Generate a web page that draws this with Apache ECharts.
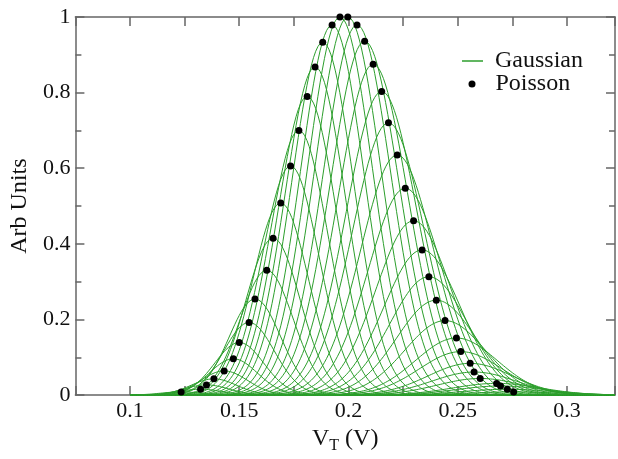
<!DOCTYPE html>
<html>
<head>
<meta charset="utf-8">
<script src="https://cdn.jsdelivr.net/npm/echarts@6/dist/echarts.min.js"></script>
<style>
  html, body { margin: 0; padding: 0; background: #fff; }
  #chart { width: 618px; height: 459px; }
</style>
</head>
<body>
<div id="chart"></div>
<script>
// Threshold-voltage positions (V) of each dopant-count state
const vtCenters = [
  0.1234, 0.1323, 0.1350, 0.1384, 0.1431, 0.1473, 0.1500, 0.1545, 0.1572, 0.1626,
  0.1655, 0.1690, 0.1735, 0.1773, 0.1811, 0.1847, 0.1882, 0.1925, 0.1961,
  0.1997, 0.2039, 0.2074, 0.2113, 0.2152, 0.2183, 0.2223, 0.2260, 0.2298, 0.2337,
  0.2368, 0.2402, 0.2442, 0.2494, 0.2514, 0.2557, 0.2575, 0.2603, 0.2678, 0.2696,
  0.2727, 0.2756
];
// Normalised Poisson weight of each state
const poissonProb = [
  0.0085, 0.0155, 0.027, 0.043, 0.064, 0.096, 0.139, 0.192, 0.254, 0.330,
  0.415, 0.508, 0.606, 0.700, 0.790, 0.868, 0.933, 0.979, 1.000,
  1.000, 0.979, 0.936, 0.875, 0.803, 0.720, 0.635, 0.547, 0.461, 0.384,
  0.313, 0.251, 0.197, 0.151, 0.115, 0.084, 0.061, 0.044, 0.031, 0.024,
  0.0155, 0.0085
];
// Gaussian spread (V) around each state; wider states sit at higher V_T
const gaussSigma = [
  0.00926, 0.00992, 0.01013, 0.01038, 0.01073, 0.01105, 0.01125, 0.01159, 0.01179, 0.01220,
  0.01241, 0.01268, 0.01301, 0.01330, 0.01358, 0.01385, 0.01412, 0.01444, 0.01471,
  0.01498, 0.01529, 0.01556, 0.01585, 0.01614, 0.01637, 0.01667, 0.01695, 0.01724, 0.01753,
  0.01776, 0.01802, 0.01832, 0.01871, 0.01886, 0.01918, 0.01931, 0.01952, 0.02009, 0.02022,
  0.02045, 0.02067
];

const xTickLabels = [0.1, 0.15, 0.2, 0.25, 0.3];
const yTickLabels = [0, 0.2, 0.4, 0.6, 0.8, 1];

const X_MIN = 0.075, X_MAX = 0.322;
const CURVE_START = 0.1, CURVE_STEP = 0.001;

function gaussianCurve(mu, amp, sigma) {
  const pts = [];
  for (let i = 0; ; i++) {
    const x = CURVE_START + i * CURVE_STEP;
    if (x > X_MAX + 1e-9) break;
    const d = (x - mu) / sigma;
    pts.push([x, amp * Math.exp(-0.5 * d * d)]);
  }
  return pts;
}

const green = '#2c9e2c';
const serif = '"Liberation Serif", "Times New Roman", serif';

const series = vtCenters.map((mu, i) => ({
  name: 'Gaussian',
  type: 'line',
  data: gaussianCurve(mu, poissonProb[i], gaussSigma[i]),
  showSymbol: false,
  symbol: 'none',
  lineStyle: { color: green, width: 1 },
  itemStyle: { color: green },
  silent: true,
  animation: false,
  z: 2
}));

series.push({
  name: 'Poisson',
  type: 'scatter',
  data: vtCenters.map((v, i) => [v, poissonProb[i]]),
  symbol: 'circle',
  symbolSize: 7,
  itemStyle: { color: '#000', opacity: 1 },
  animation: false,
  z: 5
});

const axisLineStyle = { color: '#666', width: 1.5 };
const textColor = '#111';

const chart = echarts.init(document.getElementById('chart'), null, { renderer: 'canvas' });
chart.setOption({
  backgroundColor: '#fff',
  animation: false,
  grid: { left: 67, right: 3, top: 17, bottom: 56, containLabel: false },
  legend: [
    {
      data: [{ name: 'Gaussian', icon: 'rect' }],
      left: 462, top: 49, padding: 0,
      itemWidth: 21, itemHeight: 1.5,
      textStyle: { fontFamily: serif, fontSize: 24, color: textColor, padding: [0, 0, 0, 7] },
      selectedMode: false
    },
    {
      data: [{ name: 'Poisson', icon: 'circle' }],
      left: 468.5, top: 72, padding: 0,
      itemWidth: 7, itemHeight: 7,
      textStyle: { fontFamily: serif, fontSize: 24, color: textColor, padding: [0, 0, 0, 15] },
      itemStyle: { color: '#000', opacity: 1 },
      selectedMode: false
    }
  ],
  xAxis: [
    {
      type: 'value', min: X_MIN, max: X_MAX, interval: 0.025,
      axisLine: { show: true, onZero: false, lineStyle: axisLineStyle },
      axisTick: { show: true, inside: true, length: 9, lineStyle: axisLineStyle },
      splitLine: { show: false },
      axisLabel: {
        margin: 5, fontFamily: serif, fontSize: 22, color: textColor,
        formatter: v => {
          const hit = xTickLabels.find(t => Math.abs(t - v) < 1e-6);
          return hit === undefined ? '' : String(hit);
        }
      },
      name: '{v|V}{s|T}{v| (V)}',
      nameLocation: 'middle', nameGap: 24,
      nameTextStyle: {
        rich: {
          v: { fontFamily: serif, fontSize: 24, color: textColor },
          s: { fontFamily: serif, fontSize: 16, color: textColor, padding: [14, 0, 0, 0] }
        }
      }
    },
    {
      type: 'value', position: 'top', min: X_MIN, max: X_MAX, interval: 0.025,
      axisLine: { show: true, onZero: false, lineStyle: axisLineStyle },
      axisTick: { show: true, inside: true, length: 9, lineStyle: axisLineStyle },
      axisLabel: { show: false },
      splitLine: { show: false }
    }
  ],
  yAxis: [
    {
      type: 'value', min: 0, max: 1, interval: 0.2,
      axisLine: { show: true, onZero: false, lineStyle: axisLineStyle },
      axisTick: { show: true, inside: true, length: 9, lineStyle: axisLineStyle },
      minorTick: { show: true, splitNumber: 2, length: 6, lineStyle: axisLineStyle },
      splitLine: { show: false },
      axisLabel: {
        margin: 5, fontFamily: serif, fontSize: 22, color: textColor,
        formatter: v => {
          const hit = yTickLabels.find(t => Math.abs(t - v) < 1e-6);
          return hit === undefined ? '' : String(hit);
        }
      },
      name: 'Arb Units', nameLocation: 'middle', nameGap: 40,
      nameTextStyle: { fontFamily: serif, fontSize: 24, color: textColor }
    },
    {
      type: 'value', position: 'right', min: 0, max: 1, interval: 0.2,
      axisLine: { show: true, onZero: false, lineStyle: axisLineStyle },
      axisTick: { show: true, inside: true, length: 9, lineStyle: axisLineStyle },
      minorTick: { show: true, splitNumber: 2, length: 6, lineStyle: axisLineStyle },
      axisLabel: { show: false },
      splitLine: { show: false }
    }
  ],
  series: series
});
</script>
</body>
</html>
